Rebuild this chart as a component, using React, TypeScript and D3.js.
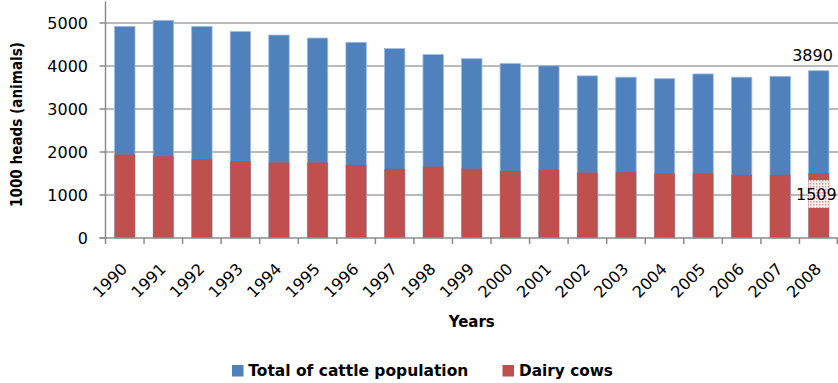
import React from "react";
import * as d3 from "d3";

const years = ["1990","1991","1992","1993","1994","1995","1996","1997","1998","1999","2000","2001","2002","2003","2004","2005","2006","2007","2008"];
const totalCattle = [4920, 5060, 4920, 4800, 4720, 4650, 4550, 4405, 4265, 4170, 4055, 4005, 3770, 3740, 3705, 3815, 3740, 3760, 3890];
const dairyCows = [1940, 1900, 1830, 1790, 1755, 1755, 1700, 1610, 1660, 1615, 1560, 1590, 1520, 1530, 1505, 1505, 1470, 1470, 1509];
const yTicks = [0, 1000, 2000, 3000, 4000, 5000];
const seriesNames = ["Total of cattle population", "Dairy cows"];
const colors = ["#4F81BD", "#C0504D"];

const W = 838, H = 383;
const left = 105.5, right = 838, bottom = 238, top = 1.5;

export default function App() {
  const x = d3.scaleBand<string>().domain(years).range([left, right]).paddingInner(0.47).paddingOuter(0.235);
  const y = d3.scaleLinear().domain([0, 5500]).range([bottom, top]);
  const step = x.step();
  const bw = x.bandwidth();
  const font = "'DejaVu Sans', Verdana, sans-serif";
  const last = years.length - 1;
  const lastX = x(years[last])!;

  return (
    <svg width={W} height={H} style={{ position: "absolute", left: 0, top: 0, background: "#fff" }}>
      <defs>
        <pattern id="dots" width="3" height="3" patternUnits="userSpaceOnUse">
          <rect width="3" height="3" fill="#fbeeee" />
          <rect width="1.5" height="1.5" fill="#d99a9a" />
        </pattern>
      </defs>
      {yTicks.slice(1).map((t) => (
        <line key={t} x1={left} x2={right} y1={y(t)} y2={y(t)} stroke="#a3a3a3" strokeWidth={1.5} />
      ))}
      {years.map((yr, i) => (
        <g key={yr}>
          <rect x={x(yr)} y={y(totalCattle[i])} width={bw} height={bottom - y(totalCattle[i])} fill={colors[0]} stroke="#9dbbe0" strokeWidth={0.8} />
          <rect x={x(yr)} y={y(dairyCows[i])} width={bw} height={bottom - y(dairyCows[i])} fill={colors[1]} />
        </g>
      ))}
      <rect x={lastX} y={180} width={bw} height={28} fill="url(#dots)" />
      <line x1={left} x2={left} y1={top} y2={bottom} stroke="#8c8c8c" strokeWidth={1.5} />
      <line x1={left - 6} x2={right} y1={bottom} y2={bottom} stroke="#8c8c8c" strokeWidth={1.5} />
      {yTicks.map((t) => (
        <g key={t}>
          <line x1={left - 6} x2={left} y1={y(t)} y2={y(t)} stroke="#8c8c8c" strokeWidth={1.5} />
          <text x={88} y={y(t)} dy="0.36em" textAnchor="end" fontFamily={font} fontSize={16} fill="#000">{t}</text>
        </g>
      ))}
      {years.map((yr, i) => (
        <line key={"t" + yr} x1={left + i * step} x2={left + i * step} y1={bottom} y2={bottom + 6} stroke="#8c8c8c" strokeWidth={1.5} />
      ))}
      <line x1={right - 0.75} x2={right - 0.75} y1={bottom} y2={bottom + 6} stroke="#8c8c8c" strokeWidth={1.5} />
      {years.map((yr) => {
        const cx = x(yr)! + bw / 2 + 3.5;
        return (
          <text key={"l" + yr} x={0} y={0} transform={`translate(${cx},270) rotate(-45)`} textAnchor="end" fontFamily={font} fontSize={16} fill="#000">{yr}</text>
        );
      })}
      <text x={812.5} y={60.5} textAnchor="middle" fontFamily={font} fontSize={16} fill="#000">{totalCattle[last]}</text>
      <text x={796} y={200} textAnchor="start" fontFamily={font} fontSize={16} fill="#000">{dairyCows[last]}</text>
      <text transform={`translate(22,124.5) rotate(-90)`} textAnchor="middle" fontFamily={font} fontWeight="bold" fontSize={15} textLength={165} lengthAdjust="spacingAndGlyphs" fill="#000">1000 heads (animals)</text>
      <text x={(left + right) / 2} y={327} textAnchor="middle" fontFamily={font} fontWeight="bold" fontSize={15} fill="#000">Years</text>
      <rect x={232} y={365} width={11.5} height={11.5} fill={colors[0]} />
      <text x={248.3} y={376} fontFamily={font} fontWeight="bold" fontSize={15} textLength={220} lengthAdjust="spacingAndGlyphs" fill="#000">{seriesNames[0]}</text>
      <rect x={502.5} y={365} width={11.5} height={11.5} fill={colors[1]} />
      <text x={519} y={376} fontFamily={font} fontWeight="bold" fontSize={15} textLength={94} lengthAdjust="spacingAndGlyphs" fill="#000">{seriesNames[1]}</text>
    </svg>
  );
}
